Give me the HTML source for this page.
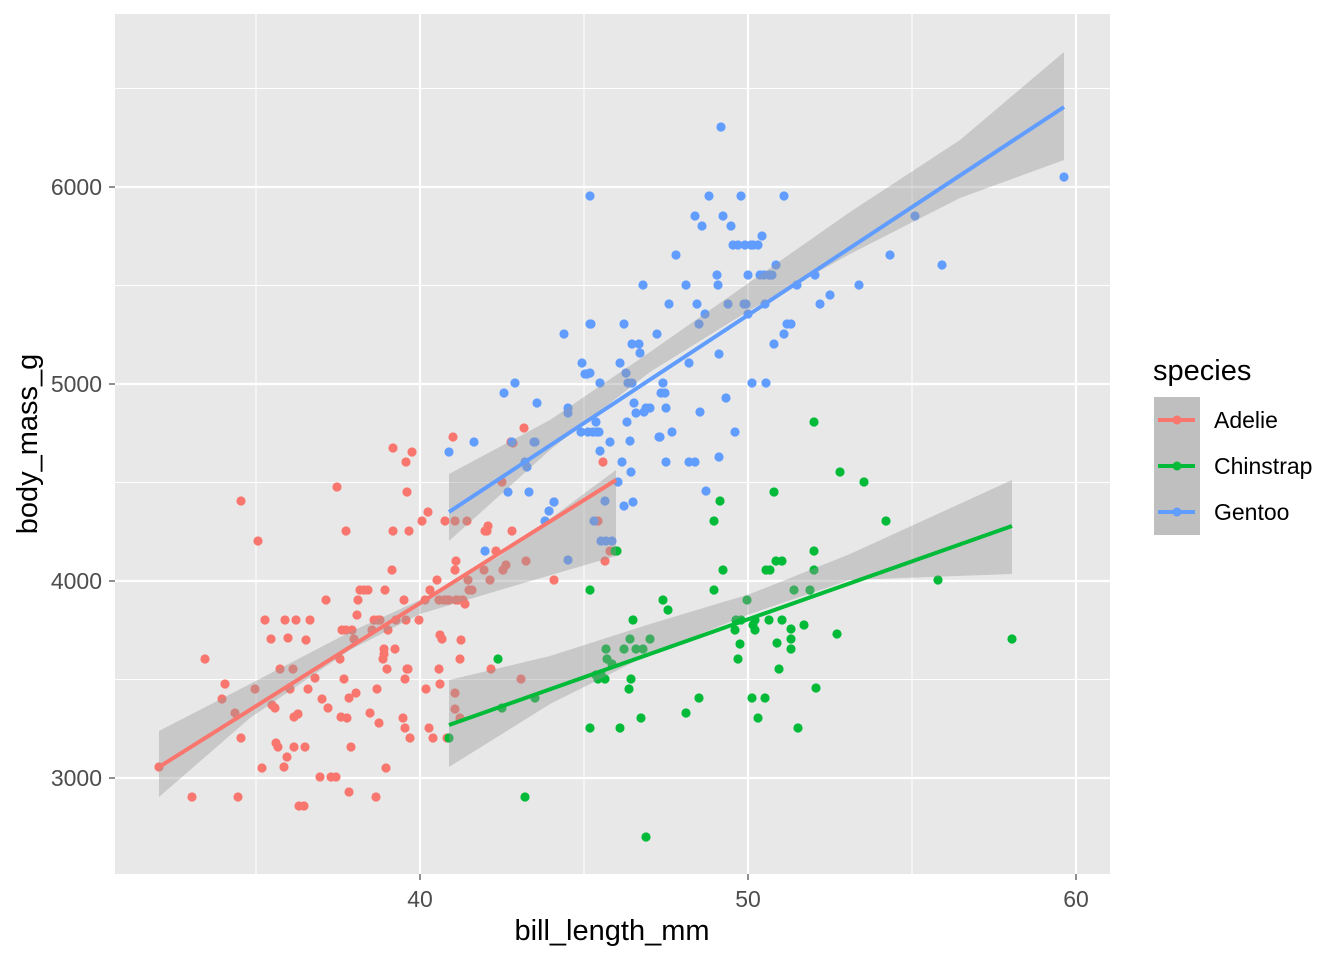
<!DOCTYPE html>
<html><head><meta charset="utf-8"><style>body{margin:0;background:#fff}svg{display:block}text{font-family:"Liberation Sans",sans-serif}</style></head>
<body>
<svg id="s" width="1344" height="960" xmlns="http://www.w3.org/2000/svg">
<rect x="115" y="14" width="995" height="860" fill="#e8e8e8"/>
<g stroke="#fff" stroke-width="1.1">
<line x1="256" x2="256" y1="14" y2="874"/><line x1="584" x2="584" y1="14" y2="874"/><line x1="912" x2="912" y1="14" y2="874"/>
<line x1="115" x2="1110" y1="88.5" y2="88.5"/><line x1="115" x2="1110" y1="285.5" y2="285.5"/><line x1="115" x2="1110" y1="482.5" y2="482.5"/><line x1="115" x2="1110" y1="679.5" y2="679.5"/>
</g>
<g stroke="#fff" stroke-width="2.2">
<line x1="420" x2="420" y1="14" y2="874"/><line x1="748" x2="748" y1="14" y2="874"/><line x1="1076" x2="1076" y1="14" y2="874"/>
<line x1="115" x2="1110" y1="187" y2="187"/><line x1="115" x2="1110" y1="384" y2="384"/><line x1="115" x2="1110" y1="581" y2="581"/><line x1="115" x2="1110" y1="778" y2="778"/>
</g>
<g id="pts"></g>
<g fill="rgba(153,153,153,0.4)">
<polygon points="159,731 250,684 350,632 420,600 500,556 616,470 616,556 500,590 420,614 350,650 250,718 159,797"/>
<polygon points="449,474 550,420 650,352 750,282 850,212 960,140 1064,52 1064,160 960,198 850,254 750,310 650,372 550,450 449,541"/>
<polygon points="449,680 550,656 650,624 750,594 850,554 1012,480 1012,574 850,580 750,614 650,654 550,704 449,767"/>
</g>
<g stroke-width="4" stroke-linecap="butt">
<line x1="159" y1="767" x2="616" y2="480" stroke="#F8766D"/>
<line x1="449" y1="725" x2="1012" y2="526" stroke="#00BA38"/>
<line x1="449" y1="512" x2="1064" y2="107" stroke="#619CFF"/>
</g>
<g stroke="#333" stroke-width="1.1">
<line x1="420" x2="420" y1="874" y2="880"/><line x1="748" x2="748" y1="874" y2="880"/><line x1="1076" x2="1076" y1="874" y2="880"/>
<line x1="109" x2="115" y1="187" y2="187"/><line x1="109" x2="115" y1="384" y2="384"/><line x1="109" x2="115" y1="581" y2="581"/><line x1="109" x2="115" y1="778" y2="778"/>
</g>
<g fill="#4d4d4d" font-size="23" text-anchor="end">
<text x="102" y="195">6000</text><text x="102" y="392">5000</text><text x="102" y="589">4000</text><text x="102" y="786">3000</text>
</g>
<g fill="#4d4d4d" font-size="23" text-anchor="middle">
<text x="420" y="907">40</text><text x="748" y="907">50</text><text x="1076" y="907">60</text>
</g>
<text x="612" y="940" font-size="29" text-anchor="middle">bill_length_mm</text>
<text transform="translate(37,444) rotate(-90)" font-size="29" text-anchor="middle">body_mass_g</text>
<text x="1153" y="380" font-size="29">species</text>
<rect x="1154" y="397" width="46" height="138" fill="#bfbfbf"/>
<g stroke-width="4">
<line x1="1158" x2="1195" y1="420" y2="420" stroke="#F8766D"/>
<line x1="1158" x2="1195" y1="466" y2="466" stroke="#00BA38"/>
<line x1="1158" x2="1195" y1="512" y2="512" stroke="#619CFF"/>
</g>
<circle cx="1177" cy="420" r="4.5" fill="#F8766D"/><circle cx="1177" cy="466" r="4.5" fill="#00BA38"/><circle cx="1177" cy="512" r="4.5" fill="#619CFF"/>
<g font-size="23"><text x="1214" y="428">Adelie</text><text x="1214" y="474">Chinstrap</text><text x="1214" y="520">Gentoo</text></g>
</svg>
<script>
var A=[159,767,192,797,205,659,222,699,225,684,235,713,238,797,241,738,241,501,255,689,258,541,262,768,265,620,271,639,272,705,275,708,276,743,278,747,280,669,284,767,285,620,287,757,288,638,290,689,293,669,294,747,294,717,296,620,298,714,299,806,304,806,305,747,306,640,308,689,310,620,315,678,320,777,322,699,326,600,328,708,331,777,336,777,337,487,340,659,341,717,342,630,344,679,346,630,346,531,347,718,349,698,349,792,351,747,352,630,354,639,356,693,357,615,358,600,360,590,364,590,368,590,370,713,372,630,374,620,376,797,377,689,378,620,379,723,380,620,383,659,384,649,384,654,385,590,386,768,387,669,388,630,392,570,393,531,393,448,395,649,396,620,403,718,404,600,405,728,405,679,406,462,407,492,406,620,407,669,408,669,409,531,410,738,412,452,419,620,422,521,425,600,426,689,428,512,429,728,430,590,433,738,437,580,439,669,439,600,440,635,440,684,442,639,444,600,445,521,447,600,447,738,449,600,453,437,455,521,455,709,455,570,456,561,456,600,458,600,460,659,461,640,463,600,465,604,467,521,468,580,469,590,472,590,484,570,485,531,487,531,488,526,490,580,491,669,496,551,502,482,503,570,506,565,511,442,512,531,513,443,521,679,524,428,526,561,554,502,554,580,603,462,605,561,610,551,598,521,460,718,455,693];
var C=[449,738,498,659,502,708,525,797,535,698,590,590,590,728,596,675,598,679,601,674,605,679,606,649,607,659,612,664,615,551,617,551,620,728,624,649,629,689,630,639,631,679,633,620,636,649,641,718,643,649,646,837,650,639,663,600,668,610,686,713,699,698,714,590,714,521,720,501,723,570,735,630,736,620,738,659,740,644,741,620,747,600,752,698,753,625,755,630,755,620,758,718,765,698,766,570,769,620,770,570,774,492,776,561,777,643,779,669,782,561,782,620,791,629,791,639,791,649,794,590,798,728,804,625,810,590,814,570,814,551,814,422,816,688,837,634,840,472,864,482,886,521,938,580,1012,639];
var G=[449,452,474,442,485,551,504,393,508,492,512,442,515,383,525,462,527,467,529,492,534,442,535,442,537,403,545,521,549,511,554,502,564,334,568,560,568,408,568,413,581,432,582,363,585,374,587,374,588,432,590,373,590,196,590,324,591,324,593,432,594,521,596,422,597,432,599,432,600,451,600,383,601,541,605,501,606,541,610,442,612,541,618,482,620,363,622,462,624,324,624,506,626,373,627,422,628,383,630,441,631,472,632,344,632,383,633,502,634,403,636,413,639,344,640,353,643,285,644,412,646,408,650,408,657,334,659,437,660,437,661,393,663,383,665,393,666,462,666,408,669,304,672,432,676,255,686,285,689,363,689,462,695,216,695,462,697,304,699,324,700,412,702,226,705,314,706,491,709,196,717,275,718,285,719,457,719,354,721,127,723,216,726,398,728,304,731,226,733,245,735,432,738,245,741,196,744,304,745,245,746,304,748,275,748,314,751,245,752,383,753,245,758,245,760,275,762,236,764,275,765,304,766,383,769,275,770,275,772,275,774,344,776,265,784,196,784,334,787,324,791,324,797,285,815,275,820,304,830,295,859,285,890,255,915,216,942,265,1064,177];
var g=document.getElementById('pts'),h='';
[[A,'#F8766D'],[C,'#00BA38'],[G,'#619CFF']].forEach(function(p){for(var i=0;i<p[0].length;i+=2)h+='<circle cx="'+p[0][i]+'" cy="'+p[0][i+1]+'" r="4.6" fill="'+p[1]+'"/>';});
g.innerHTML=h;
</script>
</body></html>
